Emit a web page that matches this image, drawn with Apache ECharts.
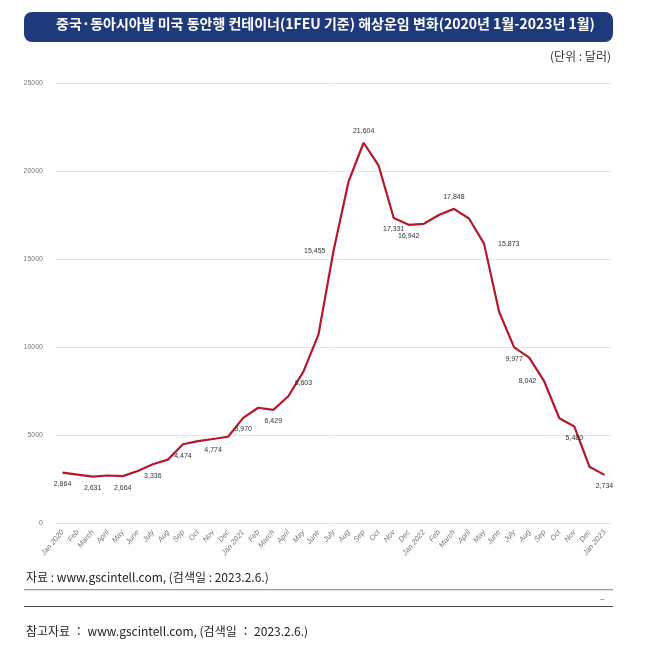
<!DOCTYPE html>
<html><head><meta charset="utf-8">
<script src="https://cdn.jsdelivr.net/npm/echarts@6/dist/echarts.min.js"></script>
<style>body{margin:0;background:#fff}#c{width:651px;height:650px}</style>
</head><body><div id="c"></div>
<script>
const categories=['Jan 2020','Feb','March','April','May','June','July','Aug','Sep','Oct','Nov','Dec','Jan 2021','Feb','March','April','May','June','July','Aug','Sep','Oct','Nov','Dec','Jan 2022','Feb','March','April','May','June','July','Aug','Sep','Oct','Nov','Dec','Jan 2023'];
const values=[2864,2750,2631,2700,2664,2950,3336,3600,4474,4650,4774,4900,5970,6550,6429,7200,8603,10700,15455,19400,21604,20300,17331,16942,17000,17500,17848,17300,15873,12000,9977,9400,8042,5950,5480,3200,2734];
const labelPos={0:'bottom',2:'bottom',4:'bottom',6:'bottom',8:'bottom',10:'bottom',12:'bottom',14:'bottom',16:'bottom',18:'left',20:'top',22:'bottom',23:'bottom',26:'top',28:'right',30:'bottom',32:'left',34:'bottom',36:'bottom'};
const yTicks=[0,5000,10000,15000,20000,25000];
const font='"Noto Sans CJK KR", sans-serif';
const data=values.map((v,i)=>{
  const p=labelPos[i];
  return {value:v,label:{show:!!p,position:p||'bottom',distance:p==='right'?14:8}};
});
const chart=echarts.init(document.getElementById('c'));
chart.setOption({
  animation:false,
  grid:{left:55,right:39,top:83,bottom:127},
  graphic:[
    {type:'rect',shape:{x:24,y:12,width:589,height:30,r:8},style:{fill:'#1f3a7a'}},
    {type:'text',left:'center',top:17,style:{text:'중국·동아시아발 미국 동안행 컨테이너(1FEU 기준) 해상운임 변화(2020년 1월-2023년 1월)',fill:'#fff',font:'bold 14px '+font}},
    {type:'text',right:40,top:50,style:{text:'(단위 : 달러)',fill:'#333',font:'12px '+font}},
    {type:'text',left:26,top:571,style:{text:'자료 : www.gscintell.com, (검색일 : 2023.2.6.)',fill:'#222',font:'12px '+font}},
    {type:'rect',shape:{x:24,y:589,width:589,height:1.2},style:{fill:'#999'}},
    {type:'rect',shape:{x:24,y:606,width:589,height:1},style:{fill:'#444'}},
    {type:'text',left:600,top:594,style:{text:'–',fill:'#666',font:'9px '+font}},
    {type:'text',left:26,top:625,style:{text:'참고자료 ： www.gscintell.com, (검색일 ： 2023.2.6.)',fill:'#222',font:'12px '+font}}
  ],
  xAxis:{type:'category',data:categories,boundaryGap:true,
    axisLine:{show:false},axisTick:{show:false},
    axisLabel:{rotate:50,interval:0,fontSize:7.5,color:'#777',fontStyle:'italic',margin:8}},
  yAxis:{type:'value',min:0,max:25000,interval:5000,
    axisLabel:{fontSize:7,color:'#777',margin:12,formatter:v=>yTicks.includes(v)?String(v):''},
    splitLine:{lineStyle:{color:'#e6e6e6'}},axisLine:{show:false},axisTick:{show:false}},
  series:[{type:'line',data:data,symbol:'circle',symbolSize:0.1,showSymbol:true,itemStyle:{color:'#b5172b'},lineStyle:{color:'#b5172b',width:2.2},
    labelLayout:{hideOverlap:false},
    label:{fontSize:7,color:'#333',formatter:p=>p.value.toLocaleString('en-US')}}]
});
</script></body></html>
